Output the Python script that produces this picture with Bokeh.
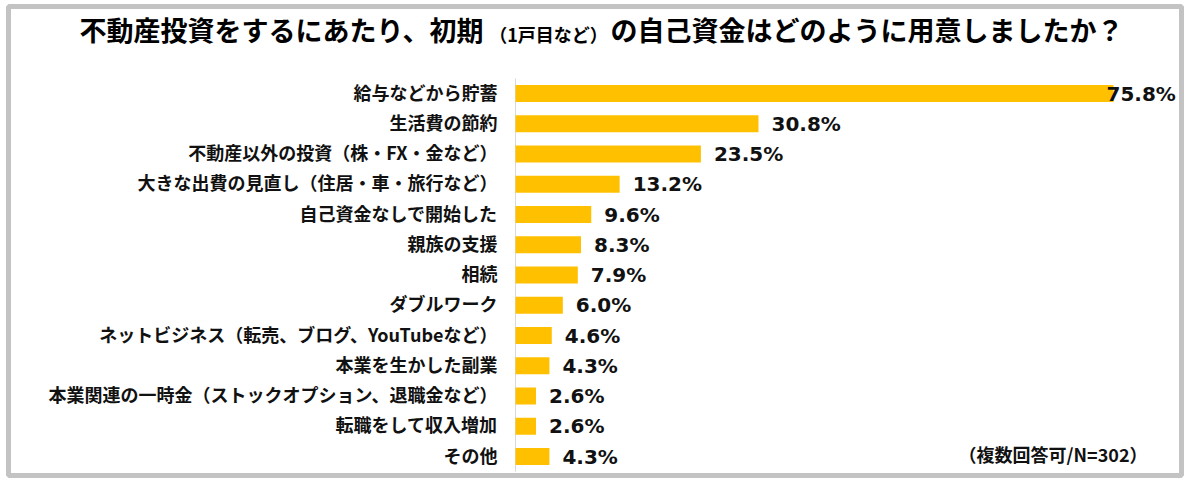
from bokeh.plotting import figure
from bokeh.models import ColumnDataSource, Range1d
from bokeh.embed import file_html
from bokeh.resources import INLINE
from bokeh.core.properties import value

# ---- data ----
categories = [
    "給与などから貯蓄",
    "生活費の節約",
    "不動産以外の投資（株・FX・金など）",
    "大きな出費の見直し（住居・車・旅行など）",
    "自己資金なしで開始した",
    "親族の支援",
    "相続",
    "ダブルワーク",
    "ネットビジネス（転売、ブログ、YouTubeなど）",
    "本業を生かした副業",
    "本業関連の一時金（ストックオプション、退職金など）",
    "転職をして収入増加",
    "その他",
]
values = [75.8, 30.8, 23.5, 13.2, 9.6, 8.3, 7.9, 6.0, 4.6, 4.3, 2.6, 2.6, 4.3]
title_main = "不動産投資をするにあたり、初期"
title_sub = "（1戸目など）"
title_tail = "の自己資金はどのように用意しましたか？"
note_text = "（複数回答可/N=302）"

# ---- layout constants (frame pixel coordinates) ----
BL, BT, BR, BB = 8, 6, 3, 3        # borders around frame
FW, FH = 1184 - BL - BR, 478 - BT - BB
X0 = 507.0          # frame px where value 0 sits
PX_PER_PCT = 7.889
ROW0 = 87.0         # frame px of first row centre
ROW_PX = 30.25
n = len(categories)

x_start = -X0 / PX_PER_PCT
x_end = (FW - X0) / PX_PER_PCT
y_top = -ROW0 / ROW_PX
y_bottom = (n - 1) + (FH - (ROW0 + (n - 1) * ROW_PX)) / ROW_PX


def px_x(cx):
    return (cx - X0) / PX_PER_PCT


def px_y(cy):
    return (cy - ROW0) / ROW_PX


src = ColumnDataSource(dict(
    idx=list(range(n)),
    cat=categories,
    val=values,
    lab=[f"{v:.1f}%" for v in values],
    off=[13 if v < 70 else -7 for v in values],
))

p = figure(frame_width=FW, frame_height=FH,
           min_border_left=BL, min_border_top=BT,
           min_border_right=BR, min_border_bottom=BB,
           x_range=Range1d(x_start, x_end), y_range=Range1d(y_bottom, y_top),
           x_axis_type=None, y_axis_type=None,
           toolbar_location=None, output_backend="svg",
           outline_line_color="#C3C3C3", outline_line_width=5,
           background_fill_color="white", border_fill_color="white")

# axis line
p.segment(x0=[0], y0=[-0.5], x1=[0], y1=[n - 0.5], line_color="#D9D9D9", line_width=1)

# bars
p.hbar(y="idx", left=0, right="val", height=0.56, fill_color="#FFC000",
       line_color=None, source=src)

# category labels
p.text(x=0, y="idx", text="cat", x_offset=-18, y_offset=-2, text_align="right",
       text_baseline="middle", text_font=value("Noto Sans CJK JP"),
       text_font_size="18px", text_font_style="bold", text_color="#111111",
       source=src)

# value labels
p.text(x="val", y="idx", text="lab", x_offset="off", text_align="left",
       text_baseline="middle", text_font=value("DejaVu Sans"),
       text_font_size="20px", text_font_style="bold", text_color="#111111",
       source=src)

# title
ty = px_y(23)
p.text(x=[px_x(475)], y=[ty], text=[title_main], text_align="right",
       text_baseline="middle", text_font=value("Noto Sans CJK JP"),
       text_font_size="27px", text_font_style="bold", text_color="#000000")
p.text(x=[px_x(540)], y=[px_y(27)], text=[title_sub], text_align="center",
       text_baseline="middle", text_font=value("Noto Sans CJK JP"),
       text_font_size="18px", text_font_style="bold", text_color="#000000")
p.text(x=[px_x(602)], y=[ty], text=[title_tail], text_align="left",
       text_baseline="middle", text_font=value("Noto Sans CJK JP"),
       text_font_size="27px", text_font_style="bold", text_color="#000000")

# note
p.text(x=[px_x(1139)], y=[n - 1], y_offset=-3, text=[note_text], text_align="right",
       text_baseline="middle", text_font=value("Noto Sans CJK JP"),
       text_font_size="18px", text_font_style="bold", text_color="#111111")

open("out.html", "w").write(file_html(p, INLINE))
